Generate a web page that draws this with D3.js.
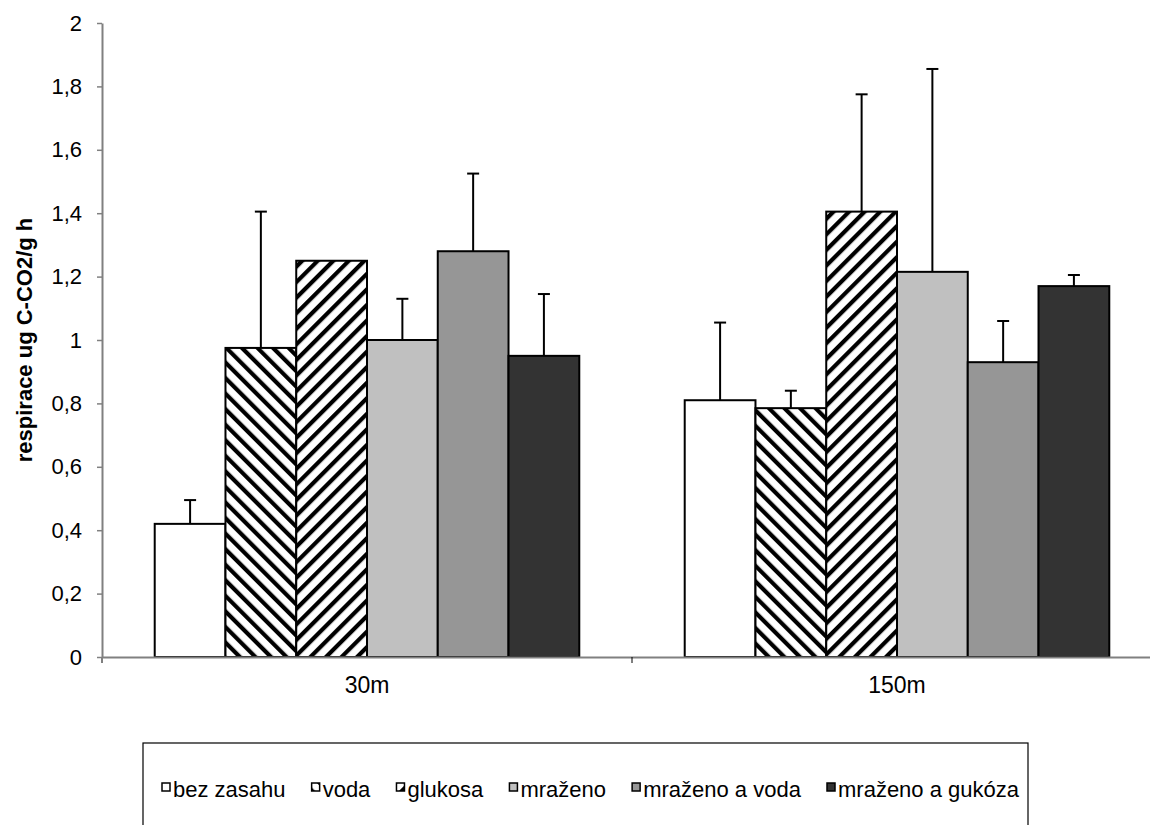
<!DOCTYPE html>
<html>
<head>
<meta charset="utf-8">
<script src="https://cdn.jsdelivr.net/npm/d3@7"></script>
<style>
  body { margin: 0; background: #fff; }
  svg { font-family: "Liberation Sans", Arial, sans-serif; }
</style>
</head>
<body>
<div id="chart"></div>
<script>
// Data
const categories = ['30m', '150m'];
const series = ['bez zasahu', 'voda', 'glukosa', 'mraženo', 'mraženo a voda', 'mraženo a gukóza'];
const values30 = [0.42, 0.975, 1.25, 1.0, 1.28, 0.95];
const errors30 = [0.075, 0.43, 0, 0.13, 0.245, 0.195];
const values150 = [0.81, 0.785, 1.405, 1.215, 0.93, 1.17];
const errors150 = [0.245, 0.055, 0.37, 0.64, 0.13, 0.035];
const yTicks = [0, 0.2, 0.4, 0.6, 0.8, 1, 1.2, 1.4, 1.6, 1.8, 2];
const yLabel = 'respirace ug C-CO2/g h';

const fills = ['#ffffff', 'url(#hatchDown)', 'url(#hatchUp)', '#c0c0c0', '#969696', '#333333'];

const valuesByCat = { '30m': values30, '150m': values150 };
const errorsByCat = { '30m': errors30, '150m': errors150 };

const data = [];
categories.forEach(c => {
    series.forEach((s, i) => {
        data.push({ cat: c, series: s, idx: i, value: valuesByCat[c][i], err: errorsByCat[c][i] });
    });
});

const W = 1150, H = 825;
const plotLeft = 102, plotRight = 1162, plotTop = 23, plotBottom = 657;

const svg = d3.select('#chart').append('svg')
    .attr('width', W)
    .attr('height', H);

// Hatch patterns
const defs = svg.append('defs');
function hatch(id, angle) {
    const p = defs.append('pattern')
        .attr('id', id)
        .attr('patternUnits', 'userSpaceOnUse')
        .attr('width', 11)
        .attr('height', 11)
        .attr('patternTransform', 'rotate(' + angle + ')');
    p.append('rect').attr('width', 11).attr('height', 11).attr('fill', '#fff');
    p.append('rect').attr('x', 0).attr('width', 4.2).attr('height', 11).attr('fill', '#000');
}
hatch('hatchDown', -45);
hatch('hatchUp', 45);

// Scales
const x0 = d3.scaleBand()
    .domain(categories)
    .range([plotLeft, plotRight])
    .padding(0);

const x1 = d3.scaleBand()
    .domain(series)
    .range([0, x0.bandwidth()])
    .paddingInner(0)
    .paddingOuter(0.745);

const y = d3.scaleLinear()
    .domain([0, 2])
    .range([plotBottom, plotTop]);

// Bars
const bars = svg.append('g');
bars.selectAll('rect')
    .data(data)
    .enter().append('rect')
    .attr('x', d => x0(d.cat) + x1(d.series))
    .attr('y', d => y(d.value))
    .attr('width', x1.bandwidth())
    .attr('height', d => y(0) - y(d.value))
    .attr('fill', d => fills[d.idx])
    .attr('stroke', '#000')
    .attr('stroke-width', 2);

// Error bars (upper only)
const errG = svg.append('g').attr('stroke', '#000').attr('stroke-width', 2);
data.filter(d => d.err > 0).forEach(d => {
    const cx = x0(d.cat) + x1(d.series) + x1.bandwidth() / 2;
    errG.append('line')
        .attr('x1', cx).attr('x2', cx)
        .attr('y1', y(d.value)).attr('y2', y(d.value + d.err));
    errG.append('line')
        .attr('x1', cx - 6).attr('x2', cx + 6)
        .attr('y1', y(d.value + d.err)).attr('y2', y(d.value + d.err));
});

// Y axis
const yAxis = svg.append('g')
    .attr('transform', 'translate(' + plotLeft + ',0)')
    .call(d3.axisLeft(y)
        .tickValues(yTicks)
        .tickSize(5)
        .tickPadding(15)
        .tickSizeOuter(0)
        .tickFormat(d => String(+d.toFixed(1)).replace('.', ',')));
yAxis.select('.domain').attr('stroke', '#808080').attr('stroke-width', 2);
yAxis.selectAll('.tick line').attr('stroke', '#808080').attr('stroke-width', 1.5);
yAxis.selectAll('text')
    .attr('font-size', 22)
    .attr('font-family', '"Liberation Sans", Arial, sans-serif')
    .attr('fill', '#000');

// X axis
const xAxis = svg.append('g')
    .attr('transform', 'translate(0,' + plotBottom + ')')
    .call(d3.axisBottom(x0).tickSize(0).tickPadding(20));
xAxis.select('.domain').attr('stroke', '#808080').attr('stroke-width', 2);
xAxis.selectAll('text')
    .attr('font-size', 23)
    .attr('font-family', '"Liberation Sans", Arial, sans-serif')
    .attr('fill', '#000');

// category boundary ticks
const bounds = categories.map(c => x0(c)).concat([x0.range()[1]]);
xAxis.selectAll('.bound')
    .data(bounds)
    .enter().append('line')
    .attr('class', 'bound')
    .attr('x1', d => d).attr('x2', d => d)
    .attr('y1', 0).attr('y2', 6)
    .attr('stroke', d => d === plotLeft ? '#808080' : '#000')
    .attr('stroke-width', d => d === plotLeft ? 2 : 1);

// Y axis title
svg.append('text')
    .attr('transform', 'translate(32,' + (plotTop + plotBottom) / 2 + ') rotate(-90)')
    .attr('text-anchor', 'middle')
    .attr('font-size', 22)
    .attr('font-weight', 'bold')
    .text(yLabel);

// Legend
const legX = 143, legY = 743, legW = 885, legH = 120;
const leg = svg.append('g');
leg.append('rect')
    .attr('x', legX).attr('y', legY)
    .attr('width', legW).attr('height', legH)
    .attr('fill', '#fff')
    .attr('stroke', '#000')
    .attr('stroke-width', 1.2);

const items = leg.append('g').selectAll('g')
    .data(series)
    .enter().append('g');
items.append('rect')
    .attr('width', 8).attr('height', 8)
    .attr('y', 783)
    .attr('fill', (d, i) => fills[i])
    .attr('stroke', '#000')
    .attr('stroke-width', 1.5);
items.append('text')
    .attr('x', 11)
    .attr('y', 797)
    .attr('font-size', 22)
    .text(d => d);

// spread items between 162 and 1019
const widths = [];
items.select('text').each(function () { widths.push(this.getComputedTextLength() + 11); });
const startX = 162, endX = 1019;
const gap = (endX - startX - d3.sum(widths)) / (series.length - 1);
let cur = startX;
items.attr('transform', (d, i) => {
    const t = 'translate(' + cur + ',0)';
    cur += widths[i] + gap;
    return t;
});
</script>
</body>
</html>
